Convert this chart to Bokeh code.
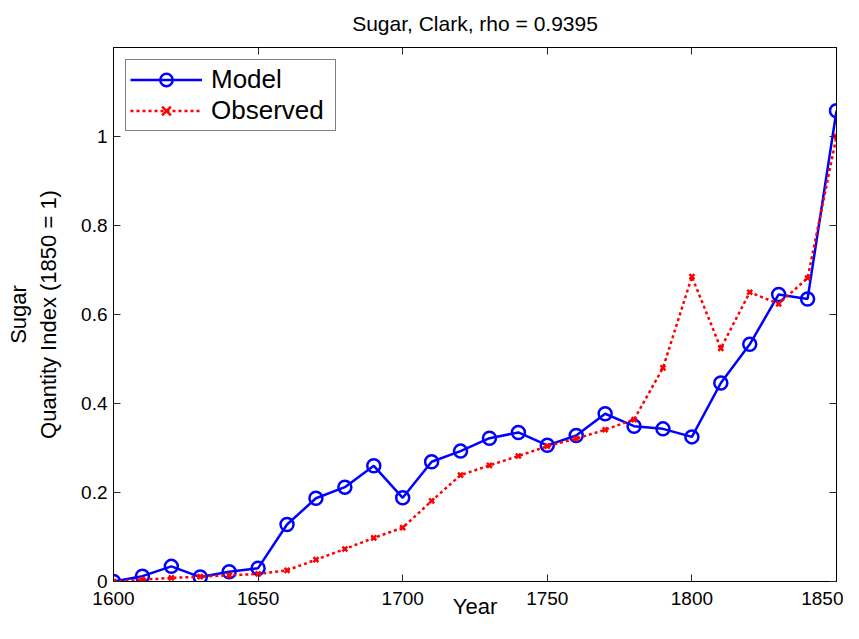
from bokeh.plotting import figure
from bokeh.models import (LinearAxis, FixedTicker, Range1d, Legend, LegendItem,
                          CustomJSTickFormatter)
from bokeh.embed import file_html
from bokeh.resources import INLINE

# ---- data ----
years = [1600, 1610, 1620, 1630, 1640, 1650, 1660, 1670, 1680, 1690, 1700, 1710, 1720,
         1730, 1740, 1750, 1760, 1770, 1780, 1790, 1800, 1810, 1820, 1830, 1840, 1850]
model = [0.000, 0.012, 0.034, 0.010, 0.022, 0.030, 0.128, 0.187, 0.212, 0.260, 0.188,
         0.269, 0.293, 0.322, 0.335, 0.306, 0.328, 0.377, 0.349, 0.343, 0.325, 0.446,
         0.533, 0.645, 0.635, 1.058]
observed = [0.000, 0.004, 0.008, 0.011, 0.014, 0.017, 0.025, 0.049, 0.073, 0.098, 0.121,
            0.181, 0.239, 0.261, 0.282, 0.304, 0.321, 0.341, 0.364, 0.480, 0.685, 0.524,
            0.650, 0.624, 0.682, 1.000]
x_ticks = [1600, 1650, 1700, 1750, 1800, 1850]
y_ticks = [0, 0.2, 0.4, 0.6, 0.8, 1.0]
y_tick_labels = ["0", "0.2", "0.4", "0.6", "0.8", "1"]
title_text = "Sugar, Clark, rho = 0.9395"
series_names = ["Model", "Observed"]

FONT = "Liberation Sans"

p = figure(width=843, height=623, output_backend="svg", toolbar_location=None,
           x_range=Range1d(1600, 1850), y_range=Range1d(0, 1.2),
           min_border_left=113, min_border_right=7, min_border_top=47,
           min_border_bottom=42, background_fill_color="white",
           border_fill_color="white")
p.grid.visible = False
p.outline_line_color = "black"
p.outline_line_width = 1

p.title.text = title_text
p.title.align = "center"
p.title.vertical_align = "top"
p.title.text_font = FONT
p.title.text_font_size = "21px"
p.title.text_font_style = "normal"
p.title.text_color = "black"
p.title.standoff = 22

# main axes
xa = p.xaxis[0]
ya = p.yaxis[0]
xa.ticker = FixedTicker(ticks=x_ticks)
ya.ticker = FixedTicker(ticks=y_ticks)
ya.major_label_overrides = dict(zip(y_ticks, y_tick_labels))
xa.axis_label = "Year"
ya.axis_label = "Sugar\nQuantity Index (1850 = 1)"
for ax in (xa, ya):
    ax.major_tick_in = 7
    ax.major_tick_out = 0
    ax.minor_tick_line_color = None
    ax.axis_line_color = "black"
    ax.major_tick_line_color = "#262626"
    ax.major_label_text_font = FONT
    ax.major_label_text_font_size = "19px"
    ax.major_label_text_color = "black"
    ax.axis_label_text_font = FONT
    ax.axis_label_text_font_size = "22px"
    ax.axis_label_text_font_style = "normal"
    ax.axis_label_text_color = "black"
xa.major_label_standoff = 10
xa.axis_label_standoff = -14
ya.major_label_standoff = 6
ya.axis_label_standoff = 17

# mirrored tick axes (box on)
blank = CustomJSTickFormatter(code="return ''")
top = LinearAxis(ticker=FixedTicker(ticks=x_ticks), formatter=blank)
right = LinearAxis(ticker=FixedTicker(ticks=y_ticks), formatter=blank)
for ax in (top, right):
    ax.major_tick_in = 7
    ax.major_tick_out = 0
    ax.minor_tick_line_color = None
    ax.axis_line_color = "black"
    ax.major_tick_line_color = "#262626"
    ax.major_label_text_font_size = "0px"
    ax.major_label_standoff = 0
p.add_layout(top, "above")
p.add_layout(right, "right")

# series
m_line = p.line(years, model, line_color="#0000FF", line_width=2.5)
m_pts = p.scatter(years, model, marker="circle", size=13, fill_color=None,
                  line_color="#0000FF", line_width=2.5)
o_line = p.line(years, observed, line_color="#FF0000", line_width=2.5,
                line_dash="3 3")
o_pts = p.scatter(years, observed, marker="x", size=7, line_color="#FF0000",
                  line_width=2.5)

legend = Legend(items=[LegendItem(label=series_names[0], renderers=[m_line, m_pts]),
                       LegendItem(label=series_names[1], renderers=[o_line, o_pts])],
                location="top_left", margin=12, padding=4, spacing=0,
                glyph_width=72, glyph_height=31, label_height=31,
                label_width=120, label_standoff=9, label_text_font=FONT,
                label_text_font_size="26px", label_text_color="black",
                border_line_color="black", border_line_width=1,
                background_fill_alpha=1.0)
p.add_layout(legend, "center")

open("out.html", "w").write(file_html(p, INLINE))
